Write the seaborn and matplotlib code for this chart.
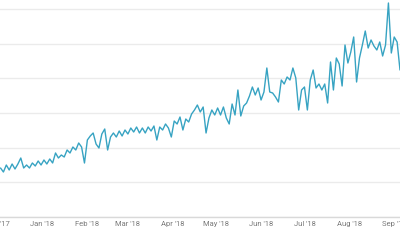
import matplotlib
matplotlib.use("Agg")
import matplotlib.pyplot as plt
import matplotlib.dates as mdates
import numpy as np
import pandas as pd
import seaborn as sns

# daily traffic-like series sampled every 2 days (values in chart units)
start_date = "2017-12-03"
step_days = 2
values = [49, 45, 52, 47, 53, 48, 53, 59, 49, 52, 49, 54, 51, 56, 52, 57, 53, 58, 54, 64,
          59, 62, 60, 67, 64, 70, 67, 74, 70, 54, 77, 81, 84, 73, 69, 83, 88, 67, 80, 84,
          80, 86, 81, 87, 83, 89, 85, 90, 84, 89, 84, 90, 86, 91, 77, 90, 87, 93, 89, 80,
          96, 93, 100, 87, 98, 95, 103, 107, 112, 105, 110, 84, 99, 107, 102, 109, 102, 110, 99, 93,
          113, 102, 127, 101, 111, 114, 121, 130, 122, 129, 117, 125, 149, 125, 124, 120, 115, 137, 133, 140,
          137, 149, 139, 107, 127, 130, 107, 137, 147, 129, 133, 127, 133, 114, 155, 127, 159, 153, 131, 172,
          154, 165, 180, 135, 159, 172, 186, 169, 177, 171, 167, 175, 161, 172, 214, 164, 180, 175, 147]
x_start = "2017-11-05"
x_end = "2018-09-05"
grid_step = 34.7

dates = pd.date_range(start_date, periods=len(values), freq=f"{step_days}D")
df = pd.DataFrame({"date": dates, "value": values})

sns.set_style("white")
plt.rcParams["font.family"] = ["Roboto", "DejaVu Sans"]

fig = plt.figure(figsize=(4, 2.4), dpi=100)
# the chart is a crop: the axes extend past the left edge of the picture
ax = fig.add_axes([-0.1, 1 - 217 / 240, 1.1, 217 / 240])

sns.lineplot(data=df, x="date", y="value", ax=ax, color="#37a3c2", linewidth=1.0)

ax.set_xlim(pd.Timestamp(x_start), pd.Timestamp(x_end))
ax.set_ylim(0, 217)
ax.set_yticks(np.arange(0, 217, grid_step))
ax.yaxis.grid(True, color="#ebebeb", linewidth=1.0)
ax.xaxis.grid(False)
ax.set_axisbelow(True)
for s in ["top", "right", "left"]:
    ax.spines[s].set_visible(False)
ax.spines["bottom"].set_color("#d9d9d9")
ax.spines["bottom"].set_linewidth(1.0)

ax.xaxis.set_major_locator(mdates.MonthLocator())
ax.xaxis.set_major_formatter(mdates.DateFormatter("%b '%y"))
ax.tick_params(axis="x", length=0, pad=3, labelsize=5.5, labelcolor="#7a7a7a")
ax.tick_params(axis="y", length=0, labelleft=False)
ax.set_xlabel("")
ax.set_ylabel("")

fig.savefig("out.png", dpi=100)
